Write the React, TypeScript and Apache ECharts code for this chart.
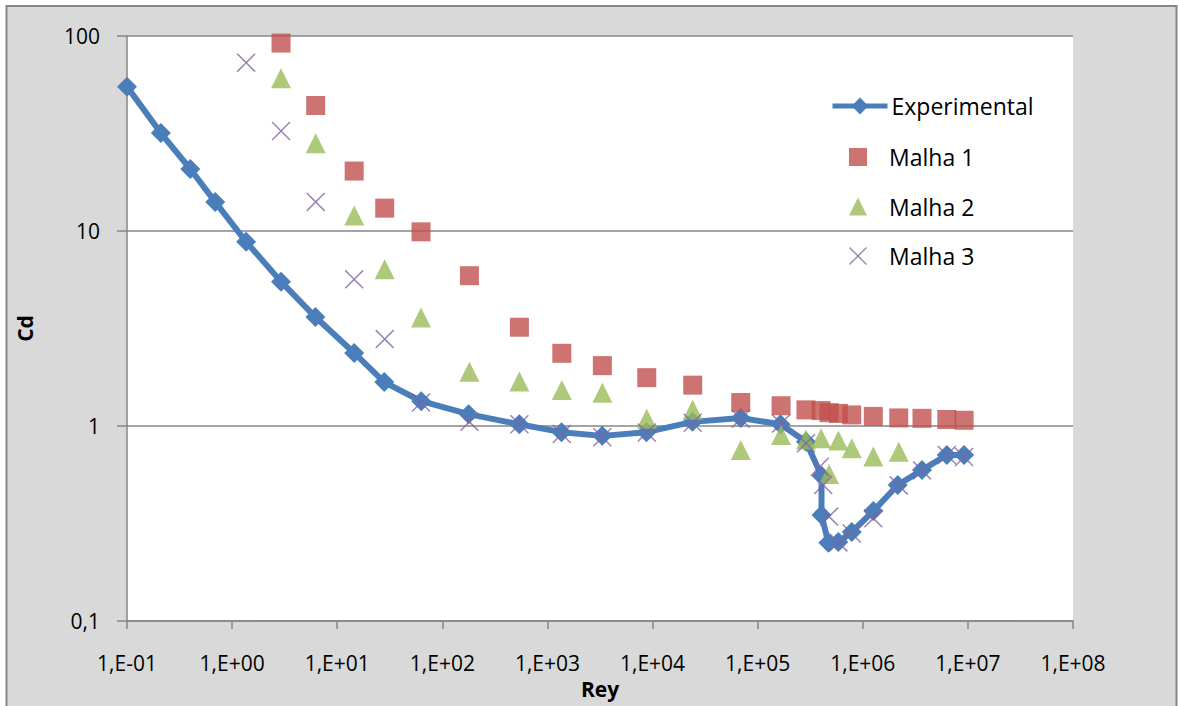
import React, { useEffect, useRef } from "react";
import * as echarts from "echarts";

const expRe = [0.1, 0.21, 0.4, 0.69, 1.36, 2.92, 6.2, 14.5, 28, 63, 178, 540, 1360, 3320, 8750, 24000, 69000, 165000, 288000, 405000, 405000, 470000, 585000, 785000, 1.26e6, 2.15e6, 3.66e6, 6.3e6, 9.2e6];
const expCd = [55, 31.8, 20.8, 14.1, 8.8, 5.5, 3.62, 2.37, 1.68, 1.34, 1.15, 1.02, 0.93, 0.89, 0.93, 1.05, 1.1, 1.02, 0.83, 0.555, 0.35, 0.252, 0.254, 0.286, 0.366, 0.498, 0.594, 0.71, 0.71];

const m1Re = [2.92, 6.24, 14.5, 28.3, 62.7, 181, 541, 1370, 3330, 8810, 24100, 69000, 167000, 288000, 401000, 478000, 586000, 785000, 1.26e6, 2.2e6, 3.66e6, 6.3e6, 9.2e6];
const m1Cd = [92, 44, 20.3, 13.1, 9.9, 5.9, 3.21, 2.36, 2.04, 1.77, 1.62, 1.32, 1.27, 1.21, 1.2, 1.17, 1.16, 1.14, 1.12, 1.1, 1.095, 1.08, 1.07];

const m2Re = [2.92, 6.24, 14.5, 28.3, 62.7, 181, 541, 1370, 3330, 8810, 24100, 69000, 167000, 288000, 401000, 478000, 586000, 785000, 1.26e6, 2.2e6];
const m2Cd = [60.7, 28.2, 12.0, 6.37, 3.6, 1.9, 1.69, 1.53, 1.48, 1.09, 1.21, 0.753, 0.9, 0.853, 0.865, 0.568, 0.843, 0.769, 0.697, 0.738];

const m3Re = [1.36, 2.92, 6.24, 14.5, 28.3, 62.7, 181, 541, 1370, 3330, 8810, 24100, 69000, 167000, 288000, 390000, 420000, 478000, 586000, 785000, 1.26e6, 2.2e6, 3.66e6, 6.3e6, 9.2e6];
const m3Cd = [73, 32.6, 14.1, 5.65, 2.79, 1.32, 1.05, 1.02, 0.91, 0.875, 0.925, 1.04, 1.09, 1.03, 0.815, 0.618, 0.498, 0.343, 0.253, 0.281, 0.336, 0.496, 0.592, 0.71, 0.694];

const seriesNames = ["Experimental", "Malha 1", "Malha 2", "Malha 3"];
const xAxisTitle = "Rey";
const yAxisTitle = "Cd";

const FONT = "'Open Sans', 'Noto Sans', sans-serif";
const X_SYMBOL = "path://M0,1.1L1.1,0L10,8.9L18.9,0L20,1.1L11.1,10L20,18.9L18.9,20L10,11.1L1.1,20L0,18.9L8.9,10Z";
const BLUE = "#4a7ebb";
const FRAME = "#868686";

const pairs = (xs: number[], ys: number[]) => xs.map((x, i) => [x, ys[i]]);

export default function App() {
  const ref = useRef<HTMLDivElement>(null);
  useEffect(() => {
    if (!ref.current) return;
    const chart = echarts.init(ref.current, undefined, { renderer: "svg" });
    const legendText = { fontFamily: FONT, fontSize: 23, color: "#000", lineHeight: 28 };
    chart.setOption({
      animation: false,
      backgroundColor: "#ffffff",
      graphic: [
        {
          type: "rect",
          z: -100,
          shape: { x: 6, y: 6, width: 1171, height: 700 },
          style: { fill: "#d9d9d9" },
          silent: true,
        },
        {
          type: "polyline",
          z: -99,
          shape: { points: [[6.5, 706], [6.5, 6], [1176.5, 6], [1176.5, 706]] },
          style: { fill: "none", stroke: FRAME, lineWidth: 2 },
          silent: true,
        },
      ],
      grid: {
        left: 127,
        top: 36,
        width: 946,
        height: 585,
        outerBoundsMode: "none",
        containLabel: false,
        show: true,
        backgroundColor: "#ffffff",
        borderWidth: 0,
      },
      legend: [
        {
          orient: "vertical",
          left: 830,
          top: 92,
          padding: 0,
          itemWidth: 55,
          itemHeight: 21,
          data: [seriesNames[0]],
          lineStyle: { width: 5 },
          textStyle: { ...legendText, padding: [0, 0, 0, -1] },
        },
        {
          orient: "vertical",
          left: 849,
          top: 143,
          padding: 0,
          itemWidth: 18,
          itemHeight: 18,
          itemGap: 21.5,
          data: seriesNames.slice(1),
          textStyle: { ...legendText, padding: [0, 0, 0, 17] },
        },
      ],
      xAxis: {
        type: "log",
        logBase: 10,
        min: 0.1,
        max: 1e8,
        splitNumber: 9,
        name: xAxisTitle,
        nameLocation: "middle",
        nameGap: 57,
        nameTextStyle: { fontFamily: FONT, fontSize: 21, fontWeight: "bold", color: "#000" },
        axisLine: { show: true, lineStyle: { color: FRAME, width: 1.5 } },
        axisTick: { show: true, length: 8, lineStyle: { color: FRAME, width: 1.5 } },
        splitLine: { show: false },
        minorTick: { show: false },
        axisLabel: {
          margin: 31,
          fontFamily: FONT,
          fontSize: 21,
          color: "#000",
          formatter: (v: number) => {
            const e = Math.round(Math.log10(v));
            const s = e < 0 ? "-" : "+";
            const a = Math.abs(e);
            return "1,E" + s + (a < 10 ? "0" + a : String(a));
          },
        },
      },
      yAxis: {
        type: "log",
        logBase: 10,
        min: 0.1,
        max: 100,
        splitNumber: 3,
        name: yAxisTitle,
        nameLocation: "middle",
        nameGap: 92,
        nameTextStyle: { fontFamily: FONT, fontSize: 21, fontWeight: "bold", color: "#000" },
        axisLine: { show: true, lineStyle: { color: FRAME, width: 1.5 } },
        axisTick: { show: true, length: 10, lineStyle: { color: FRAME, width: 1.5 } },
        splitLine: { show: true, lineStyle: { color: FRAME, width: 1.5 } },
        minorTick: { show: false },
        axisLabel: {
          margin: 27,
          fontFamily: FONT,
          fontSize: 21,
          color: "#000",
          formatter: (v: number) => (v < 1 ? String(Math.round(v * 10) / 10).replace(".", ",") : String(Math.round(v))),
        },
      },
      series: [
        {
          name: seriesNames[0],
          type: "line",
          data: pairs(expRe, expCd),
          symbol: "diamond",
          symbolSize: 20,
          lineStyle: { color: BLUE, width: 6 },
          itemStyle: { color: BLUE },
          z: 2,
        },
        {
          name: seriesNames[1],
          type: "scatter",
          data: pairs(m1Re, m1Cd),
          symbol: "rect",
          symbolSize: 19,
          itemStyle: { color: "#c0504d" },
          z: 3,
        },
        {
          name: seriesNames[2],
          type: "scatter",
          data: pairs(m2Re, m2Cd),
          symbol: "triangle",
          symbolSize: 20,
          itemStyle: { color: "#9bbb59" },
          z: 4,
        },
        {
          name: seriesNames[3],
          type: "scatter",
          data: pairs(m3Re, m3Cd),
          symbol: X_SYMBOL,
          symbolSize: 19,
          itemStyle: { color: "#8064a2" },
          z: 5,
        },
      ],
    });
    return () => chart.dispose();
  }, []);
  return (
    <div
      ref={ref}
      style={{ position: "absolute", left: 0, top: 0, width: 1178, height: 706 }}
    />
  );
}
